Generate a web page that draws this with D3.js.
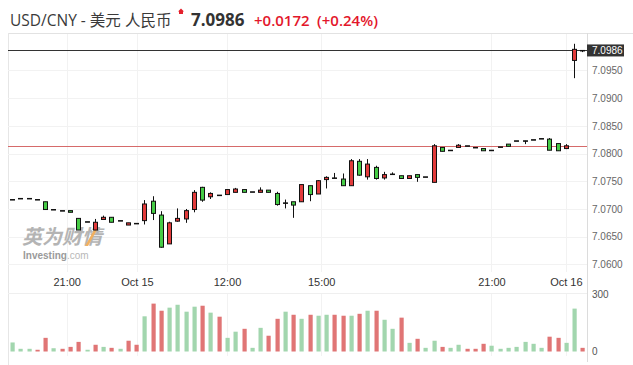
<!DOCTYPE html>
<html>
<head>
<meta charset="utf-8">
<script src="https://cdn.jsdelivr.net/npm/d3@7"></script>
<style>
body { margin: 0; background: #fff; }
svg { display: block; }
text { font-family: "Liberation Sans", Arial, sans-serif; }
</style>
</head>
<body>
<svg width="633" height="365"></svg>
<script>
var svg = d3.select("svg");

// 20-minute candles, USD/CNY
var opens = [7.0717,7.0719,7.0719,7.0717,7.0713,7.0699,7.0697,7.0697,7.0683,7.0677,
  7.0662,7.0681,7.0685,7.0679,7.0671,7.0674,7.0679,7.0714,7.0689,7.0637,
  7.0678,7.0682,7.0699,7.0739,7.0722,7.0725,7.0726,7.0730,7.0735,7.0731,
  7.0730,7.0734,7.0728,7.0711,7.0713,7.0713,7.0742,7.0727,7.0753,7.0756,
  7.0754,7.0742,7.0786,7.0758,7.0775,7.0756,7.0763,7.0760,7.0755,7.0762,
  7.0758,7.0748,7.0811,7.0806,7.0811,7.0814,7.0811,7.0809,7.0806,7.0812,
  7.0817,7.0823,7.0823,7.0825,7.0827,7.0826,7.0818,7.0809,7.0968,7.0986];
var highs = [7.0717,7.0719,7.0719,7.0717,7.0713,7.0699,7.0697,7.0697,7.0683,7.0677,
  7.0682,7.0688,7.0685,7.0679,7.0675,7.0674,7.0716,7.0723,7.0696,7.0677,
  7.0701,7.0700,7.0734,7.0740,7.0730,7.0725,7.0735,7.0738,7.0735,7.0731,
  7.0739,7.0734,7.0731,7.0717,7.0713,7.0744,7.0742,7.0752,7.0759,7.0765,
  7.0764,7.0790,7.0790,7.0790,7.0778,7.0767,7.0766,7.0760,7.0760,7.0762,
  7.0758,7.0817,7.0811,7.0806,7.0817,7.0814,7.0811,7.0809,7.0806,7.0812,
  7.0817,7.0823,7.0823,7.0825,7.0827,7.0828,7.0818,7.0817,7.0998,7.0986];
var lows = [7.0717,7.0719,7.0719,7.0717,7.0699,7.0699,7.0697,7.0694,7.0662,7.0677,
  7.0662,7.0681,7.0676,7.0679,7.0671,7.0674,7.0672,7.0680,7.0630,7.0637,
  7.0677,7.0675,7.0694,7.0713,7.0718,7.0725,7.0726,7.0730,7.0730,7.0731,
  7.0730,7.0730,7.0706,7.0701,7.0684,7.0713,7.0714,7.0727,7.0737,7.0756,
  7.0742,7.0742,7.0760,7.0753,7.0753,7.0753,7.0763,7.0755,7.0755,7.0749,
  7.0758,7.0748,7.0804,7.0806,7.0811,7.0814,7.0811,7.0805,7.0806,7.0812,
  7.0813,7.0823,7.0817,7.0825,7.0827,7.0806,7.0805,7.0808,7.0936,7.0983];
var closes = [7.0717,7.0719,7.0719,7.0717,7.0699,7.0699,7.0697,7.0694,7.0662,7.0677,
  7.0676,7.0685,7.0676,7.0679,7.0675,7.0674,7.0709,7.0692,7.0631,7.0675,
  7.0683,7.0697,7.0730,7.0716,7.0728,7.0725,7.0735,7.0736,7.0730,7.0731,
  7.0734,7.0730,7.0708,7.0711,7.0707,7.0744,7.0726,7.0751,7.0757,7.0756,
  7.0742,7.0787,7.0761,7.0781,7.0755,7.0762,7.0763,7.0755,7.0760,7.0757,
  7.0758,7.0814,7.0804,7.0806,7.0815,7.0814,7.0811,7.0805,7.0806,7.0812,
  7.0813,7.0823,7.0823,7.0825,7.0827,7.0806,7.0805,7.0814,7.0988,7.0986];
var volumes = [47,14,14,9,71,17,14,24,50,9,35,24,19,14,56,35,
  183,249,212,228,243,207,233,238,202,181,71,103,118,19,123,82,170,207,191,170,191,186,
  191,191,186,186,196,212,212,165,118,176,45,66,19,56,24,19,35,14,14,40,30,14,19,24,50,40,19,77,71,45,223,19];

var priceTicks = [7.0600,7.0650,7.0700,7.0750,7.0800,7.0850,7.0900,7.0950];
var volTicks = [0, 300];
var timeLabels = ["21:00","Oct 15","12:00","15:00","21:00","Oct 16"];
var timeIndex = [6.6, 15.1, 26, 37.4, 58, 67];
var prevClose = 7.0814;
var lastPrice = 7.0986;

var upColor = "#e23b3b", downColor = "#46cc46";
var volUp = "#a2d6ae", volDown = "#e07575";

// scales
var x = d3.scaleLinear().domain([-0.5, 69.5]).range([8, 586.5]);
var y = d3.scaleLinear().domain([7.06, 7.095]).range([264.4, 70.4]);
var yv = d3.scaleLinear().domain([0, 300]).range([351.5, 293.8]);

var left = 8, right = 587;

// header
var head = svg.append("g");
head.append("text").attr("x", 10).attr("y", 26)
  .style("font-family", "'Open Sans','Noto Sans CJK SC',sans-serif")
  .style("font-size", "15.5px").attr("fill", "#3a3a3a")
  .text("USD/CNY - 美元 人民币");
head.append("path").attr("d", "M181,8.5 L184,11.5 L183,11.5 L183,14 L179,14 L179,11.5 L178,11.5 Z")
  .attr("fill", "#e4202c");
head.append("text").attr("x", 191).attr("y", 26)
  .style("font-family", "'Open Sans',sans-serif").style("font-size", "17px")
  .style("font-weight", "bold").attr("fill", "#333").text("7.0986");
head.append("text").attr("x", 254).attr("y", 26)
  .style("font-family", "'Open Sans',sans-serif").style("font-size", "15px")
  .style("font-weight", "600").attr("fill", "#e3162b").text("+0.0172");
head.append("text").attr("x", 317).attr("y", 26)
  .style("font-family", "'Open Sans',sans-serif").style("font-size", "15px")
  .style("font-weight", "600").attr("fill", "#e3162b").text("(+0.24%)");

// frame
svg.append("line").attr("x1", left).attr("x2", 633).attr("y1", 33.5).attr("y2", 33.5)
  .attr("stroke", "#e2e2e2");
svg.append("line").attr("x1", left + 0.5).attr("x2", left + 0.5).attr("y1", 33).attr("y2", 365)
  .attr("stroke", "#e6e6e6");
svg.append("line").attr("x1", right + 0.5).attr("x2", right + 0.5).attr("y1", 33).attr("y2", 362)
  .attr("stroke", "#dcdcdc");
svg.append("line").attr("x1", left).attr("x2", right).attr("y1", 293.5).attr("y2", 293.5)
  .attr("stroke", "#efefef");

// grid
var grid = svg.append("g");
grid.selectAll(".hg").data(priceTicks).enter().append("line")
  .attr("x1", left).attr("x2", right)
  .attr("y1", function(d) { return Math.round(y(d)) + 0.5; })
  .attr("y2", function(d) { return Math.round(y(d)) + 0.5; })
  .attr("stroke", "#f2f2f2");
grid.selectAll(".vg").data(timeIndex).enter().append("line")
  .attr("x1", function(d) { return Math.round(x(d)) + 0.5; })
  .attr("x2", function(d) { return Math.round(x(d)) + 0.5; })
  .attr("y1", 34).attr("y2", 272).attr("stroke", "#f2f2f2");
grid.selectAll(".vg2").data(timeIndex).enter().append("line")
  .attr("x1", function(d) { return Math.round(x(d)) + 0.5; })
  .attr("x2", function(d) { return Math.round(x(d)) + 0.5; })
  .attr("y1", 294).attr("y2", 356).attr("stroke", "#f2f2f2");

// watermark
var wm = svg.append("g");
wm.append("text").attr("x", 22).attr("y", 244)
  .style("font-family", "'Noto Sans CJK SC',sans-serif").style("font-size", "20px")
  .style("font-weight", "bold").style("font-style", "italic")
  .attr("fill", "#b4b4b4").text("英为财情");
wm.append("path").attr("d", "M94,230 L97,230 L88,246 L85,246 Z").attr("fill", "#f0b060");
var wt = wm.append("text").attr("x", 23).attr("y", 259).style("font-size", "10px");
wt.append("tspan").style("font-weight", "bold").attr("fill", "#9a9a9a").text("Investing");
wt.append("tspan").attr("fill", "#b8b8b8").text(".com");

// reference lines
svg.append("line").attr("x1", left).attr("x2", right)
  .attr("y1", Math.round(y(prevClose)) + 0.5).attr("y2", Math.round(y(prevClose)) + 0.5)
  .attr("stroke", "#d66a6a");
svg.append("line").attr("x1", left).attr("x2", right)
  .attr("y1", Math.round(y(lastPrice)) + 0.5).attr("y2", Math.round(y(lastPrice)) + 0.5)
  .attr("stroke", "#333");

// candles
var idx = d3.range(opens.length);
var cg = svg.append("g").selectAll("g").data(idx).enter().append("g");
cg.append("line")
  .attr("x1", function(i) { return Math.round(x(i)) + 0.5; })
  .attr("x2", function(i) { return Math.round(x(i)) + 0.5; })
  .attr("y1", function(i) { return y(highs[i]); })
  .attr("y2", function(i) { return y(lows[i]); })
  .attr("stroke", "#111");
cg.append("rect")
  .attr("x", function(i) { return Math.round(x(i)) - 1.5; })
  .attr("width", 4)
  .attr("y", function(i) { return y(Math.max(opens[i], closes[i])); })
  .attr("height", function(i) { return Math.max(Math.abs(y(opens[i]) - y(closes[i])), 0.5); })
  .attr("fill", function(i) {
    if (opens[i] === closes[i]) return "#111";
    return closes[i] > opens[i] ? upColor : downColor;
  })
  .attr("stroke", "#111");

// volume
svg.append("g").selectAll("rect").data(idx).enter().append("rect")
  .attr("x", function(i) { return Math.round(x(i)) - 1.5; })
  .attr("width", 4.2)
  .attr("y", function(i) { return yv(volumes[i]); })
  .attr("height", function(i) { return yv(0) - yv(volumes[i]); })
  .attr("fill", function(i) {
    return (i === 0 || closes[i] >= closes[i - 1]) ? volUp : volDown;
  });

// axes
var yAxis = d3.axisRight(y).tickValues(priceTicks).tickSize(0).tickPadding(5)
  .tickFormat(d3.format(".4f"));
var ya = svg.append("g").attr("transform", "translate(" + right + ",0)").call(yAxis);
ya.select(".domain").remove();
ya.selectAll("text").style("font-size", "10px").attr("fill", "#666");

var va = svg.append("g").attr("transform", "translate(" + right + ",0)")
  .call(d3.axisRight(yv).tickValues(volTicks).tickSize(0).tickPadding(5));
va.select(".domain").remove();
va.selectAll("text").style("font-size", "10px").attr("fill", "#555");

var xAxis = d3.axisBottom(x).tickValues(timeIndex).tickSize(0)
  .tickFormat(function(d, i) { return timeLabels[i]; });
var xa = svg.append("g").attr("transform", "translate(0,275)").call(xAxis);
xa.select(".domain").remove();
xa.selectAll("text").style("font-size", "11px").attr("fill", "#333");

// last price tag
svg.append("rect").attr("x", right).attr("y", y(lastPrice) - 6).attr("width", 37).attr("height", 12)
  .attr("fill", "#333");
svg.append("text").attr("x", right + 5).attr("y", y(lastPrice) + 3.5)
  .style("font-size", "10px").attr("fill", "#fff").text(d3.format(".4f")(lastPrice));
</script>
</body>
</html>
